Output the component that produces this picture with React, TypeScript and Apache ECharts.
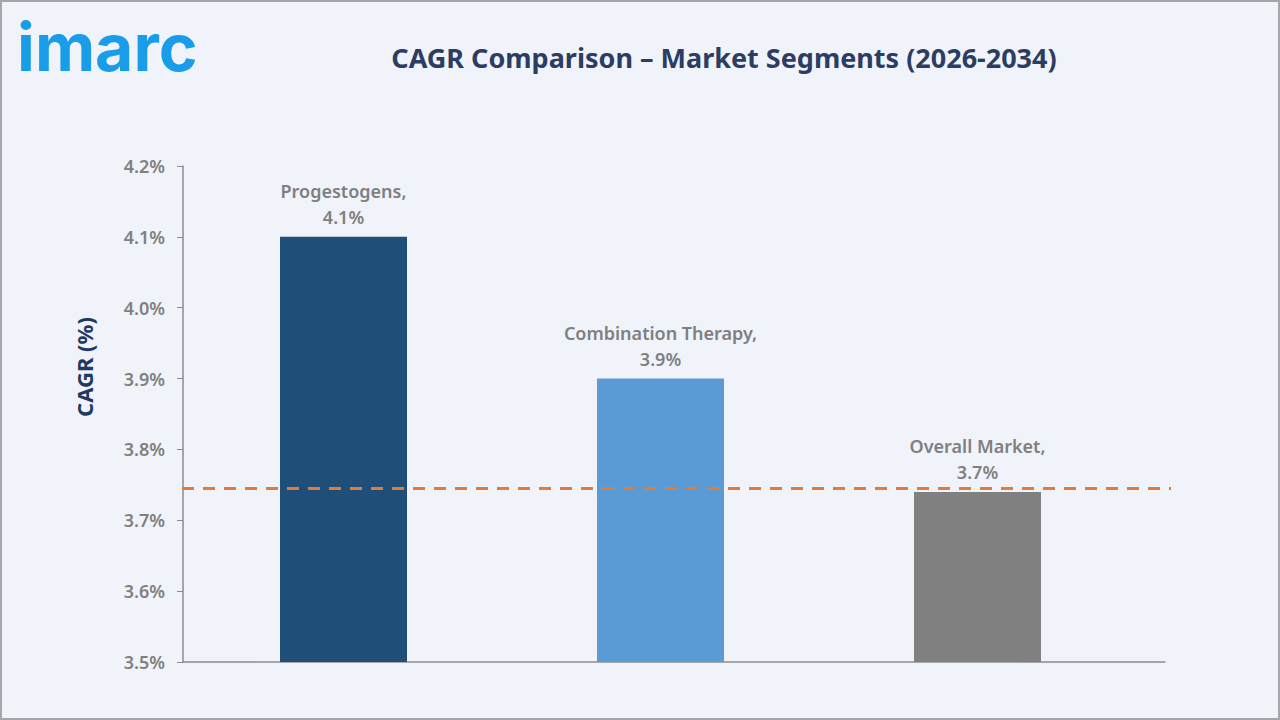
import React, { useEffect, useRef } from "react";
import * as echarts from "echarts";

const categories = ["Progestogens", "Combination Therapy", "Overall Market"];
const values = [4.1, 3.9, 3.74];
const barColors = ["#1f4e79", "#5b9bd5", "#808080"];
const referenceLine = 3.745;
const yMin = 3.5;
const yMax = 4.2;
const yInterval = 0.1;

const TOP = 166;
const HEIGHT = 496;

export default function App() {
  const ref = useRef<HTMLDivElement>(null);
  useEffect(() => {
    document.body.style.margin = "0";
    const chart = echarts.init(ref.current!, undefined, { renderer: "svg" });
    const font = "'Noto Sans', 'Open Sans', sans-serif";
    chart.setOption({
      animation: false,
      backgroundColor: "#f0f3f9",
      title: {
        text: "CAGR Comparison – Market Segments (2026-2034)",
        left: 719,
        top: 39,
        textAlign: "center",
        textStyle: { fontFamily: font, fontSize: 27, fontWeight: "bold", color: "#2b3d63" },
      },
      graphic: [
        {
          type: "rect",
          shape: { x: 1, y: 1, width: 1278, height: 718 },
          style: { fill: "none", stroke: "#a6a6a6", lineWidth: 2 },
          silent: true,
        },
        {
          type: "text",
          left: 17,
          top: 14,
          style: {
            text: "imarc",
            fontFamily: "Inter, 'Noto Sans', sans-serif",
            fontSize: 66,
            fontWeight: "bold",
            fill: "#1a9de8",
          },
        },
        {
          type: "text",
          x: 84,
          y: 367,
          rotation: Math.PI / 2,
          style: {
            text: "CAGR (%)",
            fontFamily: font,
            fontSize: 22,
            fontWeight: "bold",
            fill: "#1f3864",
            align: "center",
            verticalAlign: "middle",
          },
        },
      ],
      grid: [
        { left: 185, width: 951, top: TOP, height: HEIGHT },
        { left: 183, width: 982, top: TOP, height: HEIGHT },
        { left: 182, width: 989, top: TOP, height: HEIGHT },
      ],
      xAxis: [
        {
          type: "category",
          gridIndex: 0,
          data: categories,
          axisLine: { show: false },
          axisTick: { show: false },
          axisLabel: { show: false },
        },
        {
          type: "value",
          gridIndex: 1,
          min: 0,
          max: 1,
          axisLine: { show: true, lineStyle: { color: "#8c8c8c", width: 1.5 } },
          axisTick: { show: false },
          axisLabel: { show: false },
          splitLine: { show: false },
        },
        {
          type: "value",
          gridIndex: 2,
          min: 0,
          max: 1,
          show: false,
        },
      ],
      yAxis: [
        {
          type: "value",
          gridIndex: 0,
          min: yMin,
          max: yMax,
          interval: yInterval,
          show: false,
        },
        {
          type: "value",
          gridIndex: 1,
          min: yMin,
          max: yMax,
          interval: yInterval,
          axisLine: { show: true, lineStyle: { color: "#8c8c8c", width: 1.5 } },
          axisTick: { show: true, length: 6, lineStyle: { color: "#8c8c8c" } },
          axisLabel: {
            margin: 18,
            fontFamily: font,
            fontSize: 18,
            fontWeight: 600,
            color: "#808080",
            formatter: (v: number) => v.toFixed(1) + "%",
          },
          splitLine: { show: false },
        },
        {
          type: "value",
          gridIndex: 2,
          min: yMin,
          max: yMax,
          interval: yInterval,
          show: false,
        },
      ],
      series: [
        {
          type: "bar",
          xAxisIndex: 0,
          yAxisIndex: 0,
          barWidth: 127,
          data: values.map((v, i) => ({ value: v, itemStyle: { color: barColors[i] } })),
          label: {
            show: true,
            position: "top",
            distance: 7,
            fontFamily: font,
            fontSize: 18,
            fontWeight: 600,
            color: "#7f7f7f",
            lineHeight: 26,
            align: "center",
            formatter: (p: any) => `${categories[p.dataIndex]},\n${Number(p.value).toFixed(1)}%`,
          },
        },
        {
          type: "line",
          xAxisIndex: 2,
          yAxisIndex: 2,
          symbol: "none",
          data: [
            [0, referenceLine],
            [1, referenceLine],
          ],
          lineStyle: { color: "#e07b39", width: 3, type: [12, 9] },
          z: 5,
        },
      ],
    });
    return () => chart.dispose();
  }, []);
  return <div ref={ref} style={{ width: 1280, height: 720 }} />;
}
